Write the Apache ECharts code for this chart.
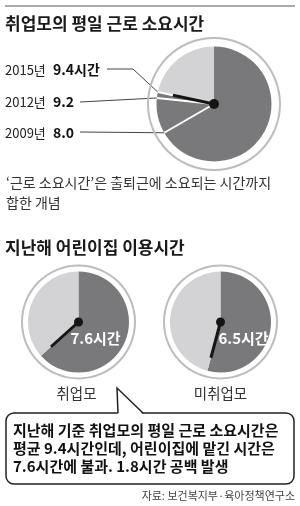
<!DOCTYPE html>
<html>
<head>
<meta charset="utf-8">
<script src="https://cdn.jsdelivr.net/npm/echarts@6/dist/echarts.min.js"></script>
<style>
html, body { margin: 0; padding: 0; background: #fff; }
#chart { width: 300px; height: 506px; }
</style>
</head>
<body>
<div id="chart"></div>
<script>
// 취업모의 평일 근로 소요시간 (연도별)
const commuteYears = ['2015년', '2012년', '2009년'];
const commuteHours = [9.4, 9.2, 8.0];
const commuteLabels = ['9.4시간', '9.2', '8.0'];
// 지난해 어린이집 이용시간
const daycareGroups = ['취업모', '미취업모'];
const daycareHours = [7.6, 6.5];
const daycareLabels = ['7.6시간', '6.5시간'];
const clockHours = 12; // 시계 한 바퀴

const FONT = "'Noto Sans CJK KR', sans-serif";
const DARK = '#79797c';
const LIGHT = '#d3d3d5';
const RING = '#bdbdbd';

// 시계 위치
const topClock = { center: [214, 104], r: 57.5, ring: 66 };
const bottomClocks = [
  { center: [78.5, 322], r: 50.5, ring: 56.5, label: [17, 16] },
  { center: [220.5, 322], r: 50.5, ring: 56.5, label: [23, 16] },
];

function clockFace(c, r, hours) {
  return {
    type: 'pie', center: c, radius: [0, r], startAngle: 90, clockwise: true,
    silent: true, label: { show: false }, labelLine: { show: false },
    data: [
      { value: hours, itemStyle: { color: DARK } },
      { value: clockHours - hours, itemStyle: { color: LIGHT } },
    ],
  };
}

function clockRing(c, r) {
  return {
    type: 'pie', center: c, radius: [r - 1, r + 1], silent: true,
    label: { show: false }, labelLine: { show: false },
    data: [{ value: 1, itemStyle: { color: RING } }],
  };
}

// 바늘 (게이지 포인터), 파이 위에 그리도록 z 를 올림
function clockHands(c, r, values, len, width, color, anchor, detail) {
  return {
    type: 'gauge', z: 5, center: c, radius: r, min: 0, max: clockHours,
    startAngle: 90, endAngle: -270,
    axisLine: { show: false }, axisTick: { show: false },
    splitLine: { show: false }, axisLabel: { show: false },
    pointer: { show: true, icon: 'rect', length: len, width: width, itemStyle: { color: color } },
    anchor: anchor
      ? { show: true, showAbove: true, size: anchor, itemStyle: { color: '#151515' } }
      : { show: false },
    title: { show: false },
    detail: detail || { show: false },
    data: values.map(v => ({ value: v })),
  };
}

// 시계 가장자리 위의 점 (값 -> 각도)
function edgePoint(clock, hours) {
  const a = hours / clockHours * Math.PI * 2;
  return [clock.center[0] + clock.r * Math.sin(a), clock.center[1] - clock.r * Math.cos(a)];
}

function text(str, x, y, size, opts) {
  opts = opts || {};
  return {
    type: 'text', silent: true,
    style: {
      text: str, x: x, y: y,
      font: (opts.bold ? 'bold ' : '') + size + 'px ' + FONT,
      fill: opts.color || '#222',
      align: opts.align || 'left', verticalAlign: 'middle',
    },
  };
}

function line(points, color, width) {
  return {
    type: 'polyline', silent: true,
    shape: { points: points },
    style: { stroke: color || '#444', lineWidth: width || 1, fill: null },
  };
}

const labelY = [70, 102, 133];
const graphics = [
  line([[5, 6], [295, 6]], '#555', 1),
  text('취업모의 평일 근로 소요시간', 5, 24, 17, { bold: true, color: '#1a1a1a' }),
];
commuteYears.forEach((y, i) => {
  graphics.push(text(y, 5, labelY[i], 13));
  graphics.push(text(commuteLabels[i], 53, labelY[i], 14, { bold: true, color: '#111' }));
});
graphics.push(line([[107, 69], [133, 69], edgePoint(topClock, commuteHours[0])]));
graphics.push(line([[80, 102], edgePoint(topClock, commuteHours[1])]));
graphics.push(line([[80, 132], edgePoint(topClock, commuteHours[2])]));

graphics.push(text('‘근로 소요시간’은 출퇴근에 소요되는 시간까지', 6, 183, 14, { color: '#333' }));
graphics.push(text('합한 개념', 6, 203, 14, { color: '#333' }));
graphics.push(text('지난해 어린이집 이용시간', 5, 248, 17, { bold: true, color: '#1a1a1a' }));

daycareGroups.forEach((g, i) => {
  graphics.push(text(g, bottomClocks[i].center[0] - 2 + i * 2, 393, 14.5, { align: 'center', color: '#333' }));
});

// 말풍선
graphics.push({
  type: 'rect', silent: true,
  shape: { x: 6, y: 413, width: 288, height: 71, r: 8 },
  style: { fill: '#fff', stroke: '#222', lineWidth: 1.5 },
});
graphics.push({
  type: 'polygon', silent: true,
  shape: { points: [[118, 414.5], [117, 388], [143, 414.5]] },
  style: { fill: '#fff' },
});
graphics.push(line([[118, 413], [117, 388], [143, 413]], '#222', 1.5));
graphics.push(text('지난해 기준 취업모의 평일 근로 소요시간은', 13, 430, 15, { bold: true, color: '#111' }));
graphics.push(text('평균 9.4시간인데, 어린이집에 맡긴 시간은', 13, 448, 15, { bold: true, color: '#111' }));
graphics.push(text('7.6시간에 불과. 1.8시간 공백 발생', 13, 466, 15, { bold: true, color: '#111' }));
graphics.push(text('자료: 보건복지부·육아정책연구소', 295, 496, 11, { align: 'right', color: '#444' }));

const series = [
  clockRing(topClock.center, topClock.ring),
  clockFace(topClock.center, topClock.r, commuteHours[0]),
  clockHands(topClock.center, topClock.r, commuteHours, topClock.r, 2, '#fff', 0),
  clockHands(topClock.center, topClock.r, [commuteHours[0]], 42, 3, '#151515', 10),
];
bottomClocks.forEach((c, i) => {
  series.push(clockRing(c.center, c.ring));
  series.push(clockFace(c.center, c.r, daycareHours[i]));
  series.push(clockHands(c.center, c.r, [daycareHours[i]], 37, 3, '#151515', 9, {
    show: true, offsetCenter: c.label, color: '#fff', fontSize: 15, fontWeight: 'bold',
    fontFamily: FONT, formatter: () => daycareLabels[i],
  }));
});

const chart = echarts.init(document.getElementById('chart'));
chart.setOption({
  animation: false,
  backgroundColor: '#fff',
  series: series,
  graphic: graphics,
});
</script>
</body>
</html>
